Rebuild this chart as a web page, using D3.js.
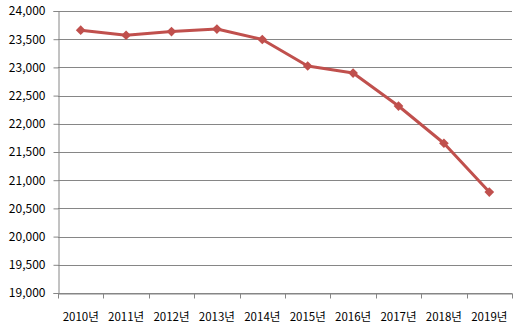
<!DOCTYPE html>
<html>
<head>
<meta charset="utf-8">
<script src="https://cdn.jsdelivr.net/npm/d3@7"></script>
<style>
  body { margin: 0; background: #fff; }
  text { font-family: "Noto Sans CJK KR", "DejaVu Sans", sans-serif; fill: #000; }
</style>
</head>
<body>
<svg id="chart"></svg>
<script>
var years = ['2010년','2011년','2012년','2013년','2014년','2015년','2016년','2017년','2018년','2019년'];
var values = [23660, 23570, 23635, 23680, 23495, 23025, 22900, 22315, 21655, 20790];
var yTicks = [19000, 19500, 20000, 20500, 21000, 21500, 22000, 22500, 23000, 23500, 24000];

var width = 521, height = 331;
var margin = {left: 58, right: 9, top: 11, bottom: 38};

var svg = d3.select('#chart').attr('width', width).attr('height', height);

var x = d3.scaleBand().domain(years).range([margin.left, width - margin.right]);
var y = d3.scaleLinear().domain([19000, 24000]).range([height - margin.bottom, margin.top]);

// gridlines
svg.selectAll('.grid').data(yTicks).enter()
  .append('line')
  .attr('x1', margin.left).attr('x2', width - margin.right)
  .attr('y1', function(d) { return Math.round(y(d)) + 0.5 })
  .attr('y2', function(d) { return Math.round(y(d)) + 0.5 })
  .attr('stroke', '#868686').attr('stroke-width', 1);

// y axis
var yAxis = svg.append('g').attr('transform', 'translate(' + (margin.left + 0.5) + ',0)')
  .call(d3.axisLeft(y).tickValues(yTicks).tickFormat(d3.format(',')).tickSize(5).tickPadding(8));
yAxis.select('.domain').attr('stroke', '#868686');
yAxis.selectAll('.tick line').attr('stroke', '#868686');
yAxis.selectAll('.tick text').style('font-size', '12px').attr('fill', '#000');

// x axis
var xAxis = svg.append('g').attr('transform', 'translate(0,' + (Math.round(y(19000)) + 0.5) + ')')
  .call(d3.axisBottom(x).tickSize(0).tickPadding(19));
xAxis.select('.domain').attr('stroke', '#868686');
xAxis.selectAll('.tick text').style('font-size', '11.5px').attr('fill', '#000');
// tick marks at band edges
var edges = years.map(function(d) { return x(d) }).concat([x(years[years.length - 1]) + x.bandwidth()]);
xAxis.selectAll('.edge').data(edges).enter()
  .append('line')
  .attr('x1', function(d) { return Math.round(d) + 0.5 })
  .attr('x2', function(d) { return Math.round(d) + 0.5 })
  .attr('y1', 0).attr('y2', 5)
  .attr('stroke', '#868686');
svg.selectAll('.tick text').style('font-family', '"Noto Sans CJK KR", "DejaVu Sans", sans-serif');

var cx = function(d, i) { return x(years[i]) + x.bandwidth() / 2 };

svg.append('path')
  .datum(values)
  .attr('d', d3.line().x(cx).y(function(d) { return y(d) }))
  .attr('fill', 'none')
  .attr('stroke', '#c0504d')
  .attr('stroke-width', 3)
  .attr('stroke-linejoin', 'round');

svg.selectAll('.marker').data(values).enter()
  .append('path')
  .attr('d', d3.symbol().type(d3.symbolDiamond2).size(60))
  .attr('transform', function(d, i) { return 'translate(' + cx(d, i) + ',' + y(d) + ')' })
  .attr('fill', '#c0504d');
</script>
</body>
</html>
